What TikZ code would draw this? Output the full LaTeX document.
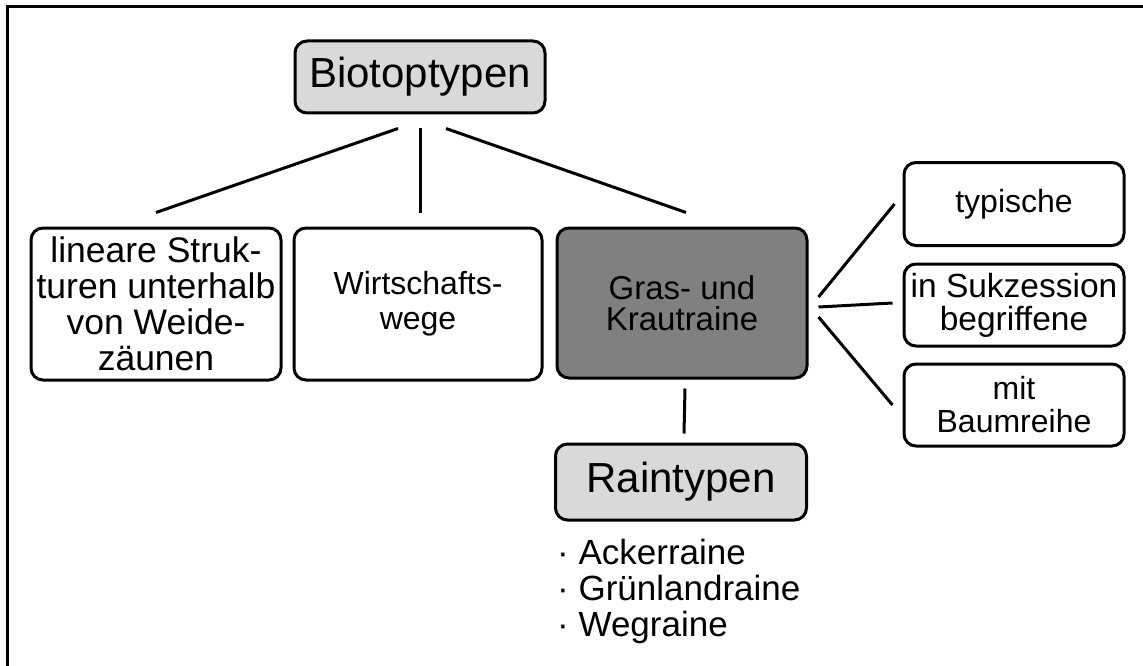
\documentclass[tikz,border=0pt]{standalone}
\usepackage{fontspec}
\setmainfont{Liberation Sans}
\usetikzlibrary{calc}
\definecolor{lightbox}{HTML}{D9D9D9}
\definecolor{darkbox}{HTML}{808080}
\tikzstyle{box}=[rectangle, rounded corners=12pt, line width=3pt, draw=black, fill=white, inner sep=0pt, align=center, anchor=center, font=\fontsize{32}{35}\selectfont]
\tikzstyle{head}=[box, fill=lightbox, font=\fontsize{42}{44}\selectfont]
\tikzstyle{conn}=[line width=3pt]
\tikzstyle{annot}=[align=left, inner sep=0pt, font=\fontsize{35}{36}\selectfont]

\begin{document}
\begin{tikzpicture}[x=1pt, y=-1pt]
	\useasboundingbox (0,0) rectangle (1143,666);
	\draw[conn] (7,666) -- (7,7) -- (1143,7);

	\node[head, minimum width=250pt, minimum height=72pt](bio) at (420,77){Biotoptypen};

	\node[box, minimum width=250pt, minimum height=152pt, font=\fontsize{35.5}{36}\selectfont](lin) at (156,304){lineare Struk-\\turen unterhalb\\von Weide-\\zäunen};
	\node[box, minimum width=248pt, minimum height=152pt](wirt) at (418,304){Wirtschafts-\\wege};
	\node[box, fill=darkbox, minimum width=250pt, minimum height=150pt, font=\fontsize{33}{31}\selectfont](gras) at (682,303){Gras- und\\Krautraine};

	\node[box, minimum width=220pt, minimum height=83pt](typ) at (1014,204){typische};
	\node[box, minimum width=220pt, minimum height=82pt, font=\fontsize{33.5}{33}\selectfont](suk) at (1014,305){in Sukzession\\begriffene};
	\node[box, minimum width=220pt, minimum height=82pt, font=\fontsize{32}{33}\selectfont](mit) at (1014,405){mit\\Baumreihe};

	\node[head, minimum width=251pt, minimum height=76pt](rain) at (681,482){Raintypen};
	\node[annot, anchor=north west](liste) at (557,539){· Ackerraine\\· Grünlandraine\\· Wegraine};

	\draw[conn] ([xshift=-22pt,yshift=-14pt]bio.south) -- ([yshift=14pt]lin.north);
	\draw[conn] ([yshift=-14pt]bio.south) -- ([yshift=14pt]bio.south |- wirt.north);
	\draw[conn] ([xshift=26pt,yshift=-14pt]bio.south) -- ([xshift=4pt,yshift=14pt]gras.north);

	\draw[conn] ([xshift=10pt,yshift=6pt]gras.east) -- ([xshift=-8pt]typ.west);
	\draw[conn] ([xshift=10pt,yshift=-4pt]gras.east) -- ([xshift=-10pt]gras.east -| suk.west);
	\draw[conn] ([xshift=10pt,yshift=-14pt]gras.east) -- ([xshift=-10pt]mit.west);

	\draw[conn] ([xshift=3pt,yshift=-9pt]gras.south) -- ([xshift=3pt,yshift=9pt]rain.north);
\end{tikzpicture}
\end{document}
